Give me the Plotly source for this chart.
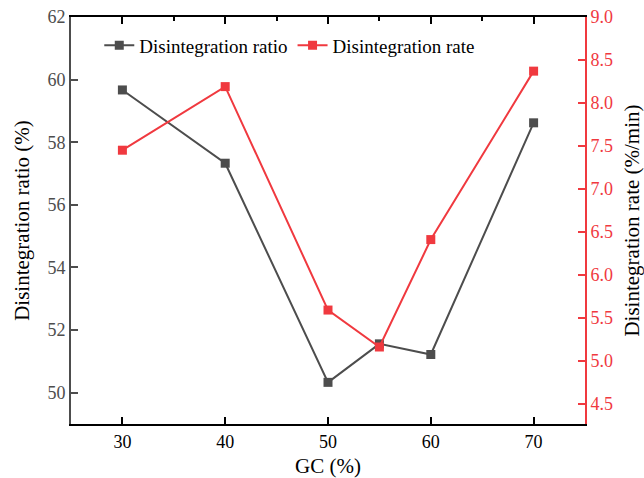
import plotly.graph_objects as go

# GC content (%) and measured responses
gc = [30, 40, 50, 55, 60, 70]
disintegration_ratio = [59.67, 57.33, 50.33, 51.56, 51.22, 58.62]   # %
disintegration_rate = [7.45, 8.19, 5.59, 5.16, 6.41, 8.37]           # %/min

x_ticks = [30, 40, 50, 60, 70]
ratio_ticks = [50, 52, 54, 56, 58, 60, 62]
rate_ticks = [4.5, 5.0, 5.5, 6.0, 6.5, 7.0, 7.5, 8.0, 8.5, 9.0]

GRAY = "#4d4d4d"
RED = "#f0393f"
FONT = "'Times New Roman', 'Liberation Serif', serif"

fig = go.Figure()
fig.add_trace(go.Scatter(
    x=gc, y=disintegration_ratio, name="Disintegration ratio",
    mode="lines+markers",
    line=dict(color=GRAY, width=2),
    marker=dict(symbol="square", size=9, color=GRAY),
    yaxis="y",
))
fig.add_trace(go.Scatter(
    x=gc, y=disintegration_rate, name="Disintegration rate",
    mode="lines+markers",
    line=dict(color=RED, width=2),
    marker=dict(symbol="square", size=9, color=RED),
    yaxis="y2",
))

fig.update_layout(
    width=644, height=478,
    margin=dict(l=71, r=59, t=17, b=54),
    paper_bgcolor="white", plot_bgcolor="white",
    font=dict(family=FONT, size=18, color="black"),
    showlegend=True,
    legend=dict(
        orientation="h", x=0.055, y=0.93, xanchor="left", yanchor="middle",
        bgcolor="rgba(0,0,0,0)", font=dict(size=19, family=FONT),
        itemwidth=30,
    ),
    xaxis=dict(
        range=[25, 75], tickvals=x_ticks, ticks="inside", ticklen=7, tickwidth=2,
        tickcolor="black", showline=True, linecolor="black", linewidth=2,
        showgrid=False, zeroline=False, automargin=False,
        tickfont=dict(size=18, color="black", family=FONT),
        title=dict(text="GC (%)", font=dict(size=21, family=FONT), standoff=8),
    ),
    xaxis2=dict(
        range=[25, 75], overlaying="x", side="top", tickvals=x_ticks,
        ticks="inside", ticklen=7, tickwidth=2, tickcolor="black",
        minor=dict(dtick=5, tick0=25, ticks="inside", ticklen=4, tickwidth=2, tickcolor="black"),
        showline=True, linecolor="black", linewidth=2, automargin=False,
        showticklabels=False, showgrid=False, zeroline=False,
    ),
    yaxis=dict(
        range=[49, 62], tickvals=ratio_ticks, ticks="inside", ticklen=7, tickwidth=2,
        tickcolor=GRAY, showline=True, linecolor=GRAY, linewidth=2,
        showgrid=False, zeroline=False, automargin=False,
        tickfont=dict(size=18, color=GRAY, family=FONT),
        title=dict(text="Disintegration ratio (%)", font=dict(size=21, color="black", family=FONT), standoff=12),
    ),
    yaxis2=dict(
        range=[4.264, 9.0], overlaying="y", side="right",
        tickvals=rate_ticks, ticktext=[f"{v:.1f}" for v in rate_ticks],
        ticks="inside", ticklen=7, tickwidth=2, tickcolor=RED,
        showline=True, linecolor=RED, linewidth=2,
        showgrid=False, zeroline=False, automargin=False,
        tickfont=dict(size=18, color=RED, family=FONT),
        title=dict(text="Disintegration rate (%/min)", font=dict(size=21, color="black", family=FONT), standoff=15),
    ),
)
# keep the top axis bound to a trace so it is drawn
fig.add_trace(go.Scatter(x=[None], y=[None], xaxis="x2", showlegend=False, hoverinfo="skip"))

fig.write_html("out.html")
